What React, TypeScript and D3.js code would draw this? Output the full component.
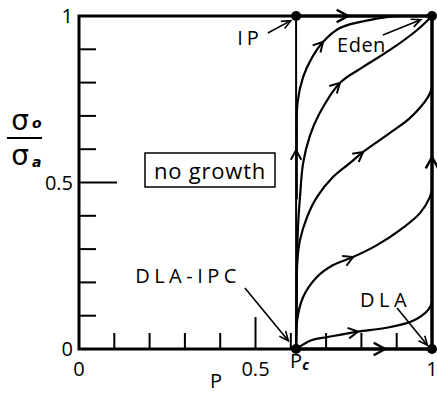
import React, { useEffect, useRef } from 'react';
import * as d3 from 'd3';

// percolation threshold on the P axis
const pc = 0.615;

const xLabelValues = [0, 0.5, 1];
const xLabelTexts = ['0', '0.5', '1'];
const yLabelValues = [0, 0.5, 1];
const yLabelTexts = ['0', '0.5', '1'];
const minorTicks = [0.1, 0.2, 0.3, 0.4, 0.6, 0.7, 0.8, 0.9];
const majorTicks = [0.5];

// fixed points: Pc, IP, Eden corner, DLA corner
const fixedPoints: [number, number][] = [[pc, 0], [pc, 1], [1, 1], [1, 0]];

// straight flow lines (edges of the growth region)
const edgePc: [number, number][] = [[pc, 0], [pc, 1]];
const edgeTop: [number, number][] = [[pc, 1], [1, 1]];
const edgeRight: [number, number][] = [[1, 0], [1, 1]];
const edgeBottom: [number, number][] = [[pc, 0], [1, 0]];

// curved flow lines (P, sigma ratio)
const flowA: [number, number][] = [[pc + 0.002, 0.45], [pc + 0.002, 0.64], [0.619, 0.739], [0.635, 0.817], [0.66, 0.875], [0.691, 0.922], [0.739, 0.964], [0.833, 0.99], [0.9, 1]];
const flowB: [number, number][] = [[pc, 0], [pc + 0.002, 0.2], [0.62, 0.357], [0.626, 0.456], [0.635, 0.559], [0.654, 0.64], [0.68, 0.705], [0.739, 0.799], [0.805, 0.847], [0.881, 0.898], [0.958, 0.958], [1, 1]];
const flowC: [number, number][] = [[pc, 0], [pc + 0.002, 0.15], [0.618, 0.258], [0.626, 0.327], [0.646, 0.396], [0.674, 0.456], [0.72, 0.517], [0.768, 0.559], [0.805, 0.592], [0.881, 0.649], [0.938, 0.694], [0.989, 0.757], [1, 0.785]];
const flowD: [number, number][] = [[pc, 0], [0.618, 0.087], [0.635, 0.156], [0.674, 0.216], [0.72, 0.252], [0.776, 0.276], [0.844, 0.312], [0.909, 0.357], [0.966, 0.408], [0.994, 0.456], [1, 0.48]];
const flowE: [number, number][] = [[pc, 0], [0.66, 0.027], [0.705, 0.036], [0.79, 0.052], [0.867, 0.063], [0.943, 0.083], [0.989, 0.117], [1, 0.14]];

const flows = [flowA, flowB, flowC, flowD, flowE];
const flowArrows: [number, number][] = [[0.691, 0.922], [0.739, 0.799], [0.805, 0.592], [0.776, 0.276], [0.79, 0.052]];
const edges = [edgePc, edgeTop, edgeRight, edgeBottom];
const edgeArrows: [number, number][] = [[pc, 0.598], [0.762, 1], [1, 0.577], [0.867, 0]];

// labels with pointer arrows
const labelTexts = ['IP', 'Eden', 'DLA-IPC', 'DLA'];
const labelPos: [number, number][] = [[0.448, 0.913], [0.731, 0.892], [0.159, 0.198], [0.796, 0.126]];
const labelSpacing = [4, 0.5, 4.5, 4.5];
const pointerFrom: [number, number][] = [[0.535, 0.949], [0.861, 0.943], [0.47, 0.183], [0.901, 0.123]];
const pointerTo: [number, number][] = [[0.6, 0.986], [0.968, 0.989], [0.593, 0.025], [0.987, 0.011]];

const W = 437;
const H = 393;
const font = '"Open Sans", "DejaVu Sans", sans-serif';

const App = () => {
  const ref = useRef<SVGSVGElement>(null);

  useEffect(() => {
    const svg = d3.select(ref.current);
    svg.selectAll('*').remove();

    const x = d3.scaleLinear().domain([0, 1]).range([79, 432]);
    const y = d3.scaleLinear().domain([0, 1]).range([349, 16]);

    const chevron = (tx: number, ty: number, ang: number, len: number, spread: number, w: number) => {
      const a1 = ang + Math.PI - spread;
      const a2 = ang + Math.PI + spread;
      svg.append('path')
        .attr('d', `M${tx + len * Math.cos(a1)},${ty + len * Math.sin(a1)}L${tx},${ty}L${tx + len * Math.cos(a2)},${ty + len * Math.sin(a2)}`)
        .attr('fill', 'none')
        .attr('stroke', '#000')
        .attr('stroke-width', w)
        .attr('stroke-linejoin', 'miter');
    };

    // put a chevron on a path at the point closest to target
    const arrowOnPath = (node: SVGPathElement, target: [number, number], len: number, w: number) => {
      const tx = x(target[0]);
      const ty = y(target[1]);
      const total = node.getTotalLength();
      let best = 0;
      let bd = Infinity;
      for (let l = 0; l <= total; l += 0.5) {
        const pt = node.getPointAtLength(l);
        const d = (pt.x - tx) ** 2 + (pt.y - ty) ** 2;
        if (d < bd) { bd = d; best = l; }
      }
      const p0 = node.getPointAtLength(Math.max(0, best - 2));
      const p1 = node.getPointAtLength(Math.min(total, best + 2));
      const pt = node.getPointAtLength(best);
      chevron(pt.x, pt.y, Math.atan2(p1.y - p0.y, p1.x - p0.x), len, 0.5, w);
    };

    // frame
    svg.append('rect')
      .attr('x', x(0)).attr('y', y(1))
      .attr('width', x(1) - x(0)).attr('height', y(0) - y(1))
      .attr('fill', 'none').attr('stroke', '#000').attr('stroke-width', 3);

    // ticks
    minorTicks.concat(majorTicks).forEach(v => {
      const major = majorTicks.includes(v);
      svg.append('line')
        .attr('x1', x(0)).attr('x2', x(0) + (major ? 38 : 17))
        .attr('y1', y(v)).attr('y2', y(v))
        .attr('stroke', '#000').attr('stroke-width', 2);
      svg.append('line')
        .attr('x1', x(v)).attr('x2', x(v))
        .attr('y1', y(0)).attr('y2', y(0) - (major ? 32 : 16))
        .attr('stroke', '#000').attr('stroke-width', 2);
    });

    // tick labels
    xLabelValues.forEach((v, i) => {
      svg.append('text')
        .attr('x', x(v)).attr('y', 376)
        .attr('text-anchor', 'middle')
        .style('font-family', font).style('font-size', '20px')
        .text(xLabelTexts[i]);
    });
    yLabelValues.forEach((v, i) => {
      svg.append('text')
        .attr('x', 73).attr('y', y(v) + 7)
        .attr('text-anchor', 'end')
        .style('font-family', font).style('font-size', '20px')
        .text(yLabelTexts[i]);
    });

    // Pc label
    const pcl = svg.append('text')
      .attr('x', x(pc) - 6).attr('y', 368)
      .style('font-family', font).style('font-size', '20px');
    pcl.append('tspan').text('P');
    pcl.append('tspan').attr('dy', 2).style('font-size', '14px').style('font-style', 'italic').style('font-weight', 'bold').text('c');

    // axis titles
    svg.append('text')
      .attr('x', 216).attr('y', 388)
      .attr('text-anchor', 'middle')
      .style('font-family', font).style('font-size', '20px')
      .text('P');

    const sig = svg.append('g').style('font-family', '"DejaVu Sans", sans-serif');
    sig.append('text').attr('x', 20).attr('y', 130).attr('text-anchor', 'middle').style('font-size', '28px').text('σ');
    sig.append('text').attr('x', 32).attr('y', 128).style('font-size', '14px').style('font-style', 'italic').style('font-weight', 'bold').text('o');
    sig.append('line').attr('x1', 7).attr('x2', 42).attr('y1', 138).attr('y2', 138).attr('stroke', '#000').attr('stroke-width', 2);
    sig.append('text').attr('x', 20).attr('y', 165).attr('text-anchor', 'middle').style('font-size', '28px').text('σ');
    sig.append('text').attr('x', 32).attr('y', 167).style('font-size', '14px').style('font-style', 'italic').style('font-weight', 'bold').text('a');

    // no growth box
    svg.append('rect')
      .attr('x', 145).attr('y', 153).attr('width', 130).attr('height', 34)
      .attr('fill', 'none').attr('stroke', '#000').attr('stroke-width', 1.5);
    svg.append('text')
      .attr('x', 210).attr('y', 179)
      .attr('text-anchor', 'middle')
      .style('font-family', font).style('font-size', '22px').style('letter-spacing', '0.8px')
      .text('no growth');

    const line = d3.line<[number, number]>()
      .x(d => x(d[0]))
      .y(d => y(d[1]))
      .curve(d3.curveCatmullRom.alpha(0.5));

    // straight edges
    edges.forEach((e, i) => {
      const p = svg.append('path')
        .attr('d', line(e))
        .attr('fill', 'none').attr('stroke', '#000')
        .attr('stroke-width', i === 0 ? 2 : 3);
      arrowOnPath(p.node() as SVGPathElement, edgeArrows[i], i === 0 ? 11 : 13, i === 0 ? 2 : 2.5);
    });

    // curved flows
    flows.forEach((f, i) => {
      const p = svg.append('path')
        .attr('d', line(f))
        .attr('fill', 'none').attr('stroke', '#000').attr('stroke-width', 2.2);
      arrowOnPath(p.node() as SVGPathElement, flowArrows[i], 11, 2);
    });

    // fixed points
    svg.selectAll('.fp')
      .data(fixedPoints)
      .enter()
      .append('circle')
      .attr('cx', d => x(d[0]))
      .attr('cy', d => y(d[1]))
      .attr('r', 5)
      .attr('fill', '#000');

    // labels and pointers
    labelTexts.forEach((t, i) => {
      svg.append('text')
        .attr('x', x(labelPos[i][0])).attr('y', y(labelPos[i][1]))
        .style('font-family', font).style('font-size', '20px')
        .style('letter-spacing', `${labelSpacing[i]}px`)
        .text(t);
      const x0 = x(pointerFrom[i][0]);
      const y0 = y(pointerFrom[i][1]);
      const x1 = x(pointerTo[i][0]);
      const y1 = y(pointerTo[i][1]);
      svg.append('line')
        .attr('x1', x0).attr('y1', y0).attr('x2', x1).attr('y2', y1)
        .attr('stroke', '#000').attr('stroke-width', 1.6);
      chevron(x1, y1, Math.atan2(y1 - y0, x1 - x0), 10, 0.42, 1.6);
    });
  }, []);

  return (
    <svg
      ref={ref}
      width={W}
      height={H}
      style={{ position: 'absolute', left: 0, top: 0, background: '#fff' }}
    />
  );
};

export default App;
